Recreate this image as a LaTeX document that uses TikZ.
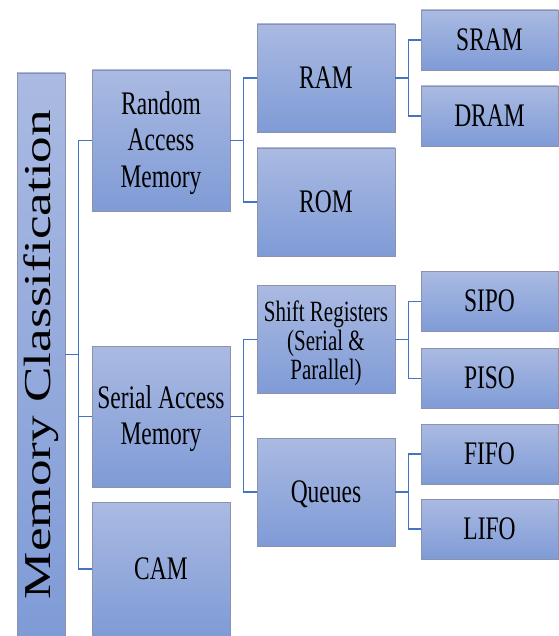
\documentclass[tikz,border=0pt]{standalone}
\usepackage{fontspec}
\setmainfont{Liberation Serif}
\usepackage{graphicx}
\usetikzlibrary{calc}
\definecolor{boxtop}{HTML}{AABAE2}
\definecolor{boxbot}{HTML}{7F9BD6}
\definecolor{boxline}{HTML}{8C92AC}
\definecolor{connc}{HTML}{4472C4}
\newcommand\tallx[2]{\raisebox{-#1}[\height][\depth]{\scalebox{1}[1.4]{\begin{tabular}{@{}c@{}}#2\end{tabular}}}}
\newcommand\tall[1]{\tallx{3pt}{#1}}
\tikzset{
  box/.style={rectangle, top color=boxtop, bottom color=boxbot, draw=boxline, line width=0.8pt,
    inner sep=0pt, font=\fontsize{23.5}{26}\selectfont, align=center},
  boxA/.style={box, minimum width=138pt, minimum height=141pt},
  boxB/.style={box, minimum width=138pt, minimum height=108pt},
  boxC/.style={box, minimum width=137pt, minimum height=60pt},
  conn/.style={draw=connc, line width=1.6pt},
}
\begin{document}
\begin{tikzpicture}[x=1pt,y=-1pt]
\useasboundingbox (0,0) rectangle (558,636);
% root
\node[box, minimum width=48pt, minimum height=563pt] (root) at (41,354.5)
  {\rotatebox{90}{\scalebox{1.4}[1]{\fontsize{38}{40}\selectfont Memory Classification}}};
% level 1
\node[boxA] (rand) at (161,140.5) {\tall{Random\\Access\\Memory}};
\node[boxA] (ser) at (161,416.5) {\tall{Serial Access\\Memory}};
\node[box, minimum width=138pt, minimum height=134pt] (cam) at (161,569) {\tall{CAM}};
% level 2
\node[boxB] (ram) at (326,78) {\tall{RAM}};
\node[boxB] (rom) at (326,202) {\tall{ROM}};
\node[boxB] (shift) at (326,339.5) {\fontsize{21}{20.5}\selectfont\tallx{4.5pt}{Shift Registers\\(Serial \&\\Parallel)}};
\node[boxB] (queue) at (326,492) {\tall{Queues}};
% level 3
\node[boxC] (sram) at (489.5,40) {\tall{SRAM}};
\node[boxC] (dram) at (489.5,116) {\tall{DRAM}};
\node[boxC] (sipo) at (489.5,301.5) {\tall{SIPO}};
\node[boxC] (piso) at (489.5,378.5) {\tall{PISO}};
\node[boxC] (fifo) at (489.5,454) {\tall{FIFO}};
\node[boxC] (lifo) at (489.5,529) {\tall{LIFO}};
% connectors
\coordinate (b1) at ($(root.east)+(13,0)$);
\draw[conn] (root.east) -- (b1);
\draw[conn] (b1) |- (rand.west);
\draw[conn] (b1) |- (ser.west);
\draw[conn] (b1) |- (cam.west);
\coordinate (b2) at ($(rand.east)+(13,0)$);
\draw[conn] (rand.east) -- (b2);
\draw[conn] (b2) |- (ram.west);
\draw[conn] (b2) |- (rom.west);
\coordinate (b3) at ($(ser.east)+(13,0)$);
\draw[conn] (ser.east) -- (b3);
\draw[conn] (b3) |- (shift.west);
\draw[conn] (b3) |- (queue.west);
\coordinate (b4) at ($(ram.east)+(13,0)$);
\draw[conn] (ram.east) -- (b4);
\draw[conn] (b4) |- (sram.west);
\draw[conn] (b4) |- (dram.west);
\coordinate (b5) at ($(shift.east)+(13,0)$);
\draw[conn] (shift.east) -- (b5);
\draw[conn] (b5) |- (sipo.west);
\draw[conn] (b5) |- (piso.west);
\coordinate (b6) at ($(queue.east)+(13,0)$);
\draw[conn] (queue.east) -- (b6);
\draw[conn] (b6) |- (fifo.west);
\draw[conn] (b6) |- (lifo.west);
\end{tikzpicture}
\end{document}
